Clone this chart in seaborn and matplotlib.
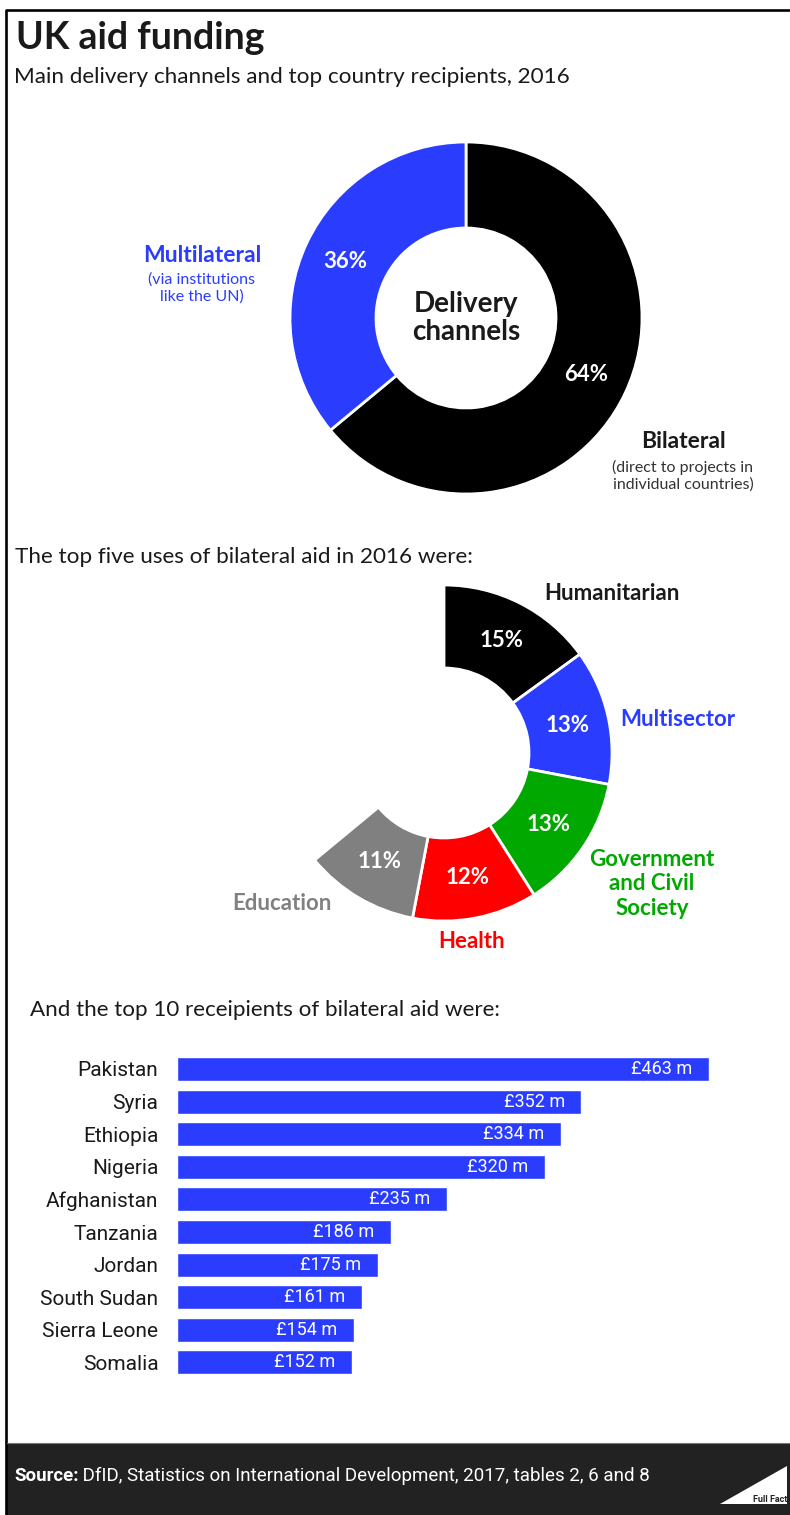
import matplotlib
matplotlib.use("Agg")
import matplotlib.pyplot as plt
from matplotlib.patches import Polygon, Rectangle
import numpy as np
import pandas as pd
import seaborn as sns

# ---- data -------------------------------------------------------------
channel_names = ["Bilateral", "Multilateral"]
channel_shares = [64, 36]

use_names = ["Humanitarian", "Multisector", "Government\nand Civil\nSociety", "Health", "Education"]
use_shares = [15, 13, 13, 12, 11]

countries = ["Pakistan", "Syria", "Ethiopia", "Nigeria", "Afghanistan",
             "Tanzania", "Jordan", "South Sudan", "Sierra Leone", "Somalia"]
aid_millions = [463, 352, 334, 320, 235, 186, 175, 161, 154, 152]

# ---- style ------------------------------------------------------------
BLUE = "#2a3dff"
GREEN = "#00a800"
RED = "#ff0000"
GREY = "#808080"
INK = "#1a1a1a"
use_colors = ["black", BLUE, GREEN, RED, GREY]

sns.set_theme(style="white")
plt.rcParams["font.family"] = ["Lato", "DejaVu Sans"]
COND = ["Roboto", "DejaVu Sans"]

W, H = 790, 1515
fig = plt.figure(figsize=(W / 100, H / 100), dpi=100)
fig.patch.set_facecolor("white")


def px_axes(left, top, width, height):
    """Axes placed by pixel box (origin top-left)."""
    return fig.add_axes([left / W, 1 - (top + height) / H, width / W, height / H])


def ring_labels(ax, values, inner, color="white", size=16):
    """Write each wedge's share at the middle of its ring segment."""
    r_mid = (1 + inner) / 2
    cum = 0
    for v in values:
        ang = np.deg2rad(90 - 3.6 * (cum + v / 2))
        ax.text(r_mid * np.cos(ang), r_mid * np.sin(ang), f"{v}%",
                ha="center", va="center", color=color, fontsize=size,
                fontweight="bold")
        cum += v


# ---- delivery channels donut -----------------------------------------
R1, IN1 = 176, 90
ax1 = px_axes(466 - R1, 318 - R1, 2 * R1, 2 * R1)
ax1.pie(channel_shares, colors=["black", BLUE], startangle=90, counterclock=False,
        radius=1, wedgeprops=dict(width=1 - IN1 / R1, edgecolor="white", linewidth=2))
ax1.set_xlim(-1, 1)
ax1.set_ylim(-1, 1)
ax1.set_aspect("equal")
ax1.axis("off")
ring_labels(ax1, channel_shares, IN1 / R1)
ax1.text(0, 0, "Delivery\nchannels", ha="center", va="center", fontsize=20,
         fontweight="bold", color=INK, linespacing=1.1)

# ---- top five uses (partial donut) -----------------------------------
R2, IN2 = 168, 85
ax2 = px_axes(444 - R2, 753 - R2, 2 * R2, 2 * R2)
rest = 100 - sum(use_shares)
wedges, _ = ax2.pie(use_shares + [rest], colors=use_colors + ["white"],
                    startangle=90, counterclock=False, radius=1,
                    wedgeprops=dict(width=1 - IN2 / R2, edgecolor="white", linewidth=2))
wedges[-1].set_visible(False)
ax2.set_xlim(-1, 1)
ax2.set_ylim(-1, 1)
ax2.set_aspect("equal")
ax2.axis("off")
ring_labels(ax2, use_shares, IN2 / R2)

# ---- top ten recipients bar chart ------------------------------------
row = 32.6
axb = px_axes(177, 1069 - row / 2, 574.5, row * len(countries))
df = pd.DataFrame({"country": countries, "aid": aid_millions})
sns.barplot(data=df, x="aid", y="country", orient="h", color=BLUE,
            saturation=1, width=0.74, ax=axb)
axb.set_xlim(0, 500)
axb.set_ylim(len(countries) - 0.5, -0.5)
axb.set_xlabel("")
axb.set_ylabel("")
axb.set_xticks([])
sns.despine(ax=axb, left=True, bottom=True)
axb.tick_params(axis="y", length=0, pad=13.5)
for lab in axb.get_yticklabels():
    lab.set_fontfamily(COND)
    lab.set_fontsize(15)
    lab.set_color(INK)
for i, v in enumerate(aid_millions):
    axb.annotate(f"£{v} m", xy=(v, i), xytext=(-12, 0), textcoords="offset points",
                 ha="right", va="center", color="white", fontsize=13,
                 family=COND)

# ---- text, frame and footer overlay ----------------------------------
ov = px_axes(0, 0, W, H)
ov.set_xlim(0, W)
ov.set_ylim(H, 0)
ov.axis("off")

ov.text(16, 38, "UK aid funding", fontsize=27, fontweight="bold", color=INK,
        ha="left", va="center")
ov.text(14, 77, "Main delivery channels and top country recipients, 2016",
        fontsize=16.2, color=INK, ha="left", va="center")

ov.text(202, 255, "Multilateral", fontsize=16.5, fontweight="bold", color=BLUE,
        ha="center", va="center")
ov.text(202, 288, "(via institutions\nlike the UN)", fontsize=11.5, color=BLUE,
        ha="center", va="center", linespacing=1.2)
ov.text(683, 441, "Bilateral", fontsize=16.5, fontweight="bold", color=INK,
        ha="center", va="center")
ov.text(683, 476, "(direct to projects in\nindividual countries)", fontsize=11.5,
        color="#333333", ha="center", va="center", linespacing=1.2)

ov.text(15, 557, "The top five uses of bilateral aid in 2016 were:", fontsize=16.2,
        color=INK, ha="left", va="center")

use_label_pos = [(612, 594), (678, 720), (652, 884), (472, 941), (282, 904)]
for name, col, (x, y) in zip(use_names, use_colors, use_label_pos):
    ov.text(x, y, name, fontsize=16, fontweight="bold", ha="center", va="center",
            color=col if col != "black" else INK, linespacing=1.2)

ov.text(30, 1010, "And the top 10 receipients of bilateral aid were:", fontsize=16.1,
        color=INK, ha="left", va="center")

# frame
ov.plot([6, 6, W], [H, 10, 10], color="black", lw=1.9, solid_capstyle="butt")

# footer
ov.add_patch(Rectangle((7, 1443), W - 7, H - 1443, facecolor="#222222",
                       edgecolor="none"))
ov.plot([7, W], [1443, 1443], color="#777777", lw=0.8)
src = ov.text(14, 1476, "Source:", fontsize=13.5, fontweight="bold", color="white",
              ha="left", va="center", family=COND)
ov.annotate(" DfID, Statistics on International Development, 2017, tables 2, 6 and 8",
            xy=(1, 0.5), xycoords=src, ha="left", va="center", fontsize=13.5,
            color="white", family=COND)
ov.add_patch(Polygon([(720, 1504), (787, 1466), (787, 1504)], closed=True,
                     facecolor="white", edgecolor="none"))
ov.text(787, 1499, "Full Fact", fontsize=6.5, fontweight="bold", color="#222222",
        ha="right", va="center", family=COND)

fig.savefig("out.png", dpi=100, facecolor="white")
